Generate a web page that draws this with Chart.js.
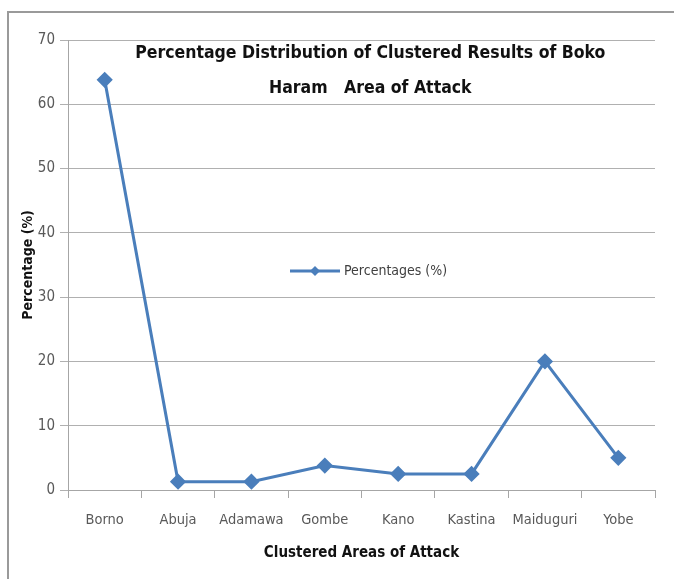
<!DOCTYPE html>
<html>
<head>
<meta charset="utf-8">
<script src="https://cdn.jsdelivr.net/npm/chart.js@4.4.0/dist/chart.umd.min.js"></script>
<style>
  html, body { margin: 0; padding: 0; background: #fff; }
  #wrap { position: relative; width: 674px; height: 579px; }
  #frame { position: absolute; left: 7px; top: 11px; right: 0; bottom: 0;
           border-left: 2px solid #9a9a9a; border-top: 2px solid #9a9a9a; }
  canvas { position: absolute; left: 0; top: 0; }
</style>
</head>
<body>
<div id="wrap">
  <div id="frame"></div>
  <canvas id="chart" width="674" height="579"></canvas>
</div>
<script>
// data
const areas = ['Borno', 'Abuja', 'Adamawa', 'Gombe', 'Kano', 'Kastina', 'Maiduguri', 'Yobe'];
const percentages = [63.8, 1.3, 1.3, 3.8, 2.5, 2.5, 20.0, 5.0];
const titleLines = ['Percentage Distribution of Clustered Results of Boko', 'Haram   Area of Attack'];
const seriesName = 'Percentages (%)';

const narrow = "'Liberation Sans Narrow', 'DejaVu Sans Condensed', sans-serif";
const blue = '#4a7ebb';

// title and legend sit inside the plot area
const insidePlot = {
  id: 'insidePlot',
  afterDraw(chart) {
    const ctx = chart.ctx;
    const a = chart.chartArea;
    ctx.save();
    ctx.fillStyle = '#111';
    ctx.font = 'bold 17.5px ' + narrow;
    ctx.textAlign = 'center';
    ctx.textBaseline = 'middle';
    const cx = a.left + (a.right - a.left) * 0.515;
    ctx.fillText(titleLines[0], cx, a.top + 13);
    ctx.fillText(titleLines[1], cx, a.top + 48);

    // legend
    const ly = a.top + 231;
    const lx = a.left + 222;
    ctx.strokeStyle = blue;
    ctx.lineWidth = 3;
    ctx.beginPath();
    ctx.moveTo(lx, ly);
    ctx.lineTo(lx + 50, ly);
    ctx.stroke();
    ctx.fillStyle = blue;
    ctx.beginPath();
    ctx.moveTo(lx + 25, ly - 5);
    ctx.lineTo(lx + 30, ly);
    ctx.lineTo(lx + 25, ly + 5);
    ctx.lineTo(lx + 20, ly);
    ctx.closePath();
    ctx.fill();
    ctx.fillStyle = '#404040';
    ctx.font = '14px ' + narrow;
    ctx.textAlign = 'left';
    ctx.fillText(seriesName, lx + 54, ly);
    ctx.restore();
  }
};

const ctx = document.getElementById('chart').getContext('2d');
new Chart(ctx, {
  type: 'line',
  data: {
    labels: areas,
    datasets: [{
      label: seriesName,
      data: percentages,
      borderColor: blue,
      backgroundColor: blue,
      borderWidth: 3,
      pointStyle: 'rectRot',
      pointRadius: 6,
      pointHoverRadius: 6,
      tension: 0
    }]
  },
  options: {
    responsive: false,
    animation: false,
    layout: { padding: { left: 0, top: 40, right: 19, bottom: 0 } },
    plugins: {
      legend: { display: false },
      title: { display: false },
      tooltip: { enabled: false }
    },
    scales: {
      x: {
        offset: true,
        grid: { offset: true, drawOnChartArea: false, tickLength: 8, color: '#a6a6a6' },
        border: { color: '#a6a6a6' },
        ticks: { color: '#595959', font: { family: narrow, size: 14.5 }, padding: 14, maxRotation: 0 },
        title: { display: true, text: 'Clustered Areas of Attack', color: '#111',
                 font: { family: narrow, size: 15, weight: 'bold' }, padding: { top: 0, bottom: 17 } },
        afterFit: axis => { axis.height = 89; }
      },
      y: {
        min: 0,
        max: 70,
        ticks: { stepSize: 10, color: '#595959', font: { family: narrow, size: 15 }, padding: 5 },
        grid: { color: '#b0b0b0', tickLength: 8 },
        border: { color: '#a6a6a6' },
        title: { display: true, text: 'Percentage (%)', color: '#111',
                 font: { family: narrow, size: 14, weight: 'bold' }, padding: { top: 20 } },
        afterFit: axis => { axis.width = 68; }
      }
    }
  },
  plugins: [insidePlot]
});
</script>
</body>
</html>
